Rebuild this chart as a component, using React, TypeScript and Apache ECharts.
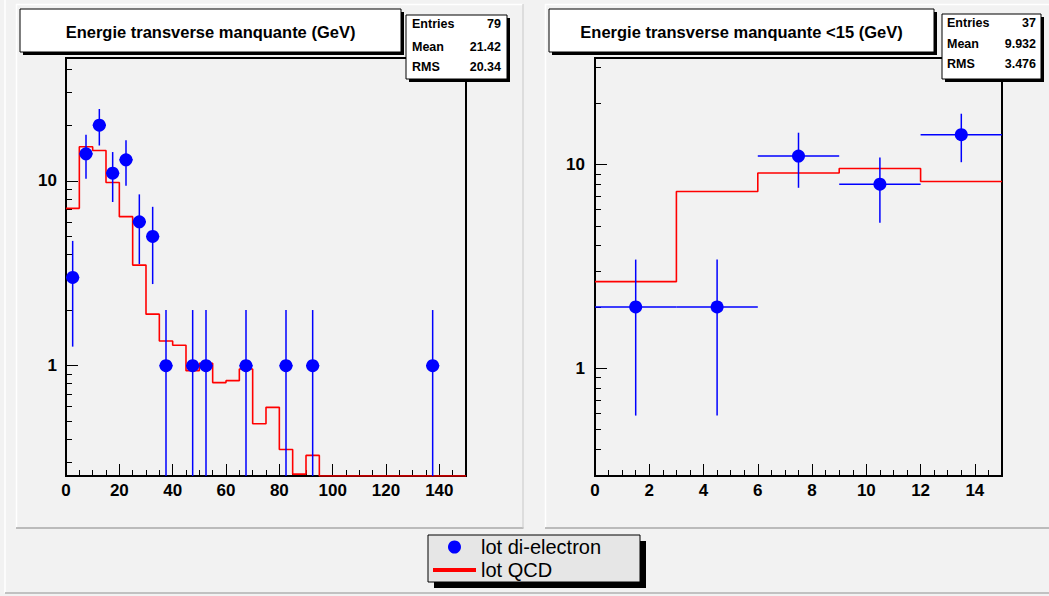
import React, { useEffect, useRef } from "react";
import * as echarts from "echarts";

// ---------------- data ----------------
const leftBinWidth = 5;
const leftXMax = 150;
const leftCounts = [3, 14, 20, 11, 13, 6, 5, 1, 0, 1, 1, 0, 0, 1, 0, 0, 1, 0, 1, 0, 0, 0, 0, 0, 0, 0, 0, 1, 0, 0];
const leftQCD = [7.1, 15.3, 14.6, 9.8, 6.4, 3.5, 1.9, 1.36, 1.29, 0.94, 1.03, 0.81, 0.83, 0.96, 0.485, 0.595, 0.352, 0.259, 0.327, 0, 0, 0, 0, 0, 0, 0, 0, 0, 0, 0];
const leftYRange = [0.253, 46.2];
const leftXMajor = [0, 20, 40, 60, 80, 100, 120, 140];
const leftXMinor = [5, 10, 15, 25, 30, 35, 45, 50, 55, 65, 70, 75, 85, 90, 95, 105, 110, 115, 125, 130, 135, 145];
const leftYMajor = [1, 10];
const leftYMinor = [0.3, 0.4, 0.5, 0.6, 0.7, 0.8, 0.9, 2, 3, 4, 5, 6, 7, 8, 9, 20, 30, 40];
const leftTitle = "Energie transverse manquante (GeV)";
const leftStats = ["79", "21.42", "20.34"];

const rightBinWidth = 3;
const rightXMax = 15;
const rightCounts = [2, 2, 11, 8, 14];
const rightQCD = [2.66, 7.37, 9.08, 9.56, 8.25];
const rightYRange = [0.296, 33.3];
const rightXMajor = [0, 2, 4, 6, 8, 10, 12, 14];
const rightXMinor = [0.5, 1, 1.5, 2.5, 3, 3.5, 4.5, 5, 5.5, 6.5, 7, 7.5, 8.5, 9, 9.5, 10.5, 11, 11.5, 12.5, 13, 13.5, 14.5];
const rightYMajor = [1, 10];
const rightYMinor = [0.3, 0.4, 0.5, 0.6, 0.7, 0.8, 0.9, 2, 3, 4, 5, 6, 7, 8, 9, 20, 30];
const rightTitle = "Energie transverse manquante <15 (GeV)";
const rightStats = ["37", "9.932", "3.476"];

const statNames = ["Entries", "Mean", "RMS"];
const legendNames = ["lot di-electron", "lot QCD"];

// ---------------- style ----------------
const FONT = '"Liberation Sans", Arial, Helvetica, sans-serif';
const BG = "#f2f2f2";
const BLUE = "#0000ff";
const RED = "#ff0000";

function buildPanel(
  i: number,
  rect: { left: number; top: number; width: number; height: number },
  xMax: number,
  yRange: number[],
  binWidth: number,
  counts: number[],
  qcd: number[],
  xMajor: number[],
  xMinor: number[],
  yMajor: number[],
  yMinor: number[],
  yLabelMargin: number
) {
  const grid = {
    ...rect,
    show: true,
    borderColor: "#000",
    borderWidth: 2,
    backgroundColor: "transparent",
  };
  const xAxes = [
    {
      type: "value",
      gridIndex: i,
      min: 0,
      max: xMax,
      axisLine: { show: true, lineStyle: { color: "#000", width: 2 } },
      axisTick: { show: true, inside: true, length: 12, customValues: xMajor, lineStyle: { color: "#000", width: 1 } },
      axisLabel: {
        show: true,
        customValues: xMajor,
        color: "#000",
        fontSize: 17,
        fontWeight: "bold",
        fontFamily: FONT,
        margin: 6,
      },
      splitLine: { show: false },
    },
    {
      type: "value",
      gridIndex: i,
      min: 0,
      max: xMax,
      position: "bottom",
      axisLine: { show: false },
      axisTick: { show: true, inside: true, length: 6, customValues: xMinor, lineStyle: { color: "#000", width: 1 } },
      axisLabel: { show: false },
      splitLine: { show: false },
    },
  ];
  const yAxes = [
    {
      type: "log",
      logBase: 10,
      gridIndex: i,
      min: yRange[0],
      max: yRange[1],
      position: "left",
      axisLine: { show: true, lineStyle: { color: "#000", width: 2 } },
      axisTick: { show: true, inside: true, length: 12, customValues: yMajor, lineStyle: { color: "#000", width: 1 } },
      axisLabel: {
        show: true,
        customValues: yMajor,
        color: "#000",
        fontSize: 17,
        fontWeight: "bold",
        fontFamily: FONT,
        margin: yLabelMargin,
        formatter: (v: number) => String(Math.round(v)),
      },
      splitLine: { show: false },
    },
    {
      type: "log",
      logBase: 10,
      gridIndex: i,
      min: yRange[0],
      max: yRange[1],
      position: "left",
      axisLine: { show: false },
      axisTick: { show: true, inside: true, length: 6, customValues: yMinor, lineStyle: { color: "#000", width: 1 } },
      axisLabel: { show: false },
      splitLine: { show: false },
    },
  ];
  const xi = 2 * i;
  const yi = 2 * i;
  const stepData = qcd.map((v, k) => [k * binWidth, Math.max(v, yRange[0])]);
  stepData.push([xMax, Math.max(qcd[qcd.length - 1], yRange[0])]);
  const pts: number[][] = [];
  const errs: number[][] = [];
  counts.forEach((n, k) => {
    if (n > 0) {
      const c = k * binWidth + binWidth / 2;
      const e = Math.sqrt(n);
      pts.push([c, n]);
      errs.push([c, n, binWidth / 2, Math.max(n - e, yRange[0]), Math.min(n + e, yRange[1])]);
    }
  });
  const series = [
    {
      type: "line",
      name: legendNames[1],
      xAxisIndex: xi,
      yAxisIndex: yi,
      step: "end",
      symbol: "none",
      showSymbol: false,
      data: stepData,
      lineStyle: { color: RED, width: 1.6 },
      itemStyle: { color: RED },
      clip: true,
      z: 2,
    },
    {
      type: "custom",
      name: "err" + i,
      xAxisIndex: xi,
      yAxisIndex: yi,
      data: errs,
      encode: { x: 0, y: 1 },
      silent: true,
      z: 3,
      renderItem: (params: any, api: any) => {
        const x = api.value(0);
        const y = api.value(1);
        const xe = api.value(2);
        const lo = api.value(3);
        const hi = api.value(4);
        const pl = api.coord([x - xe, y]);
        const pr = api.coord([x + xe, y]);
        const pt = api.coord([x, hi]);
        const pb = api.coord([x, lo]);
        const style = { stroke: BLUE, lineWidth: 1.5 };
        return {
          type: "group",
          children: [
            { type: "line", shape: { x1: pl[0], y1: pl[1], x2: pr[0], y2: pr[1] }, style },
            { type: "line", shape: { x1: pt[0], y1: pt[1], x2: pb[0], y2: pb[1] }, style },
          ],
        };
      },
    },
    {
      type: "scatter",
      name: legendNames[0],
      xAxisIndex: xi,
      yAxisIndex: yi,
      data: pts,
      symbol: "circle",
      symbolSize: 13,
      itemStyle: { color: BLUE, opacity: 1 },
      z: 4,
    },
  ];
  return { grid, xAxes, yAxes, series };
}

function boxWithShadow(x: number, y: number, w: number, h: number, off: number, fill: string) {
  return [
    { type: "rect", z: 100, shape: { x: x + off, y: y + off, width: w, height: h }, style: { fill: "#000" } },
    { type: "rect", z: 101, shape: { x, y, width: w, height: h }, style: { fill, stroke: "#000", lineWidth: 1 } },
  ];
}

function txt(x: number, y: number, text: string, font: string, align: string) {
  return {
    type: "text",
    z: 102,
    x,
    y,
    style: {
      text,
      font,
      fill: "#000",
      align,
      textAlign: align,
      verticalAlign: "middle",
      textVerticalAlign: "middle",
    },
  };
}

function line(x1: number, y1: number, x2: number, y2: number, color: string, w: number) {
  return { type: "line", z: -5, shape: { x1, y1, x2, y2 }, style: { stroke: color, lineWidth: w } };
}

export default function App() {
  const ref = useRef<HTMLDivElement>(null);
  useEffect(() => {
    if (!ref.current) return;
    const chart = echarts.init(ref.current, undefined, { renderer: "svg" });
    const L = buildPanel(
      0,
      { left: 66, top: 58, width: 400, height: 418 },
      leftXMax, leftYRange, leftBinWidth, leftCounts, leftQCD,
      leftXMajor, leftXMinor, leftYMajor, leftYMinor, 9
    );
    const R = buildPanel(
      1,
      { left: 595, top: 58, width: 407, height: 418 },
      rightXMax, rightYRange, rightBinWidth, rightCounts, rightQCD,
      rightXMajor, rightXMinor, rightYMajor, rightYMinor, 10
    );
    const statFont = "bold 12.5px " + FONT;
    const titleFont = "bold 16.5px " + FONT;
    const graphics: any[] = [
      // canvas & pad bevels
      line(5, 0, 5, 593, "#ffffff", 1.5),
      line(5, 593, 1049, 593, "#b0b0b0", 1.5),
      line(16.5, 4, 16.5, 528, "#ffffff", 1.5),
      line(16, 4.5, 523, 4.5, "#ffffff", 1.5),
      line(16, 528, 523.5, 528, "#a8a8a8", 1.5),
      line(523, 4, 523, 528, "#c8c8c8", 1),
      line(545.5, 4, 545.5, 528, "#ffffff", 1.5),
      line(545, 4.5, 1049, 4.5, "#ffffff", 1.5),
      line(545, 528, 1049, 528, "#a8a8a8", 1.5),
      // title boxes
      ...boxWithShadow(20, 9, 381, 43, 3, "#ffffff"),
      txt(210.5, 32, leftTitle, titleFont, "center"),
      ...boxWithShadow(549, 9, 385, 43, 3, "#ffffff"),
      txt(741.5, 32, rightTitle, titleFont, "center"),
      // stats boxes
      ...boxWithShadow(406, 15, 101, 64, 3, "#ffffff"),
      ...boxWithShadow(942, 14, 99, 65, 3, "#ffffff"),
      // legend box
      ...boxWithShadow(428, 535, 212, 47, 6, "#e6e6e6"),
    ];
    const leftRows = [24, 46.5, 66.5];
    const rightRows = [22.5, 43.5, 64];
    statNames.forEach((n, k) => {
      graphics.push(txt(412, leftRows[k], n, statFont, "left"));
      graphics.push(txt(501, leftRows[k], leftStats[k], statFont, "right"));
      graphics.push(txt(947, rightRows[k], n, statFont, "left"));
      graphics.push(txt(1036, rightRows[k], rightStats[k], statFont, "right"));
    });

    chart.setOption({
      animation: false,
      backgroundColor: BG,
      grid: [L.grid, R.grid],
      xAxis: [...L.xAxes, ...R.xAxes],
      yAxis: [...L.yAxes, ...R.yAxes],
      series: [...L.series, ...R.series],
      legend: {
        data: [
          { name: legendNames[0], icon: "circle" },
          { name: legendNames[1], icon: "path://M0,0H43V4H0Z" },
        ],
        orient: "vertical",
        left: 433,
        top: 537,
        padding: 0,
        itemWidth: 43,
        itemHeight: 13,
        itemGap: 3,
        symbolKeepAspect: true,
        selectedMode: false,
        textStyle: { fontSize: 20, fontFamily: FONT, color: "#000", padding: [0, 0, 0, 0] },
        z: 200,
      },
      graphic: { elements: graphics },
    });
    return () => chart.dispose();
  }, []);
  return (
    <div
      ref={ref}
      style={{ position: "fixed", left: 0, top: 0, width: 1049, height: 596 }}
    />
  );
}
